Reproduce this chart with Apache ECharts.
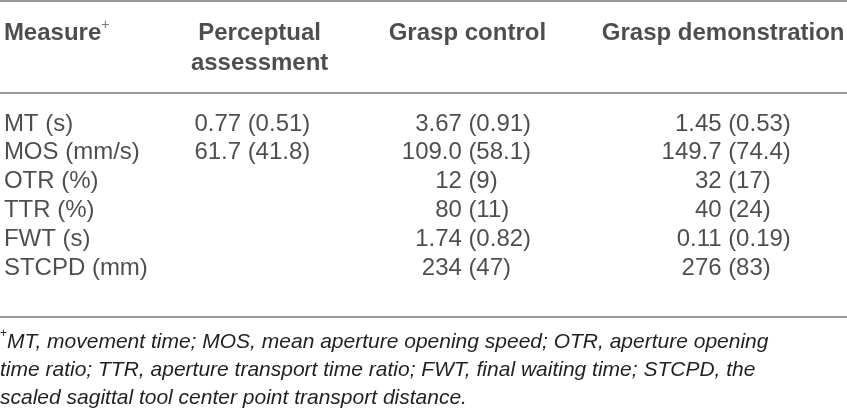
<!DOCTYPE html>
<html>
<head>
    <meta charset="utf-8">
    <script src="https://cdn.jsdelivr.net/npm/echarts@6/dist/echarts.min.js"></script>
    <style>
        html, body { margin: 0; padding: 0; background: #fff; }
    </style>
</head>
<body>
    <div id="main" style="width: 847px;height:417px;"></div>
<script type="text/javascript">
    // table content
    var columns = ['Measure', 'Perceptual assessment', 'Grasp control', 'Grasp demonstration'];
    var headerText = ['Measure{sup|+}', 'Perceptual\nassessment', 'Grasp control', 'Grasp demonstration'];
    var measures = ['MT (s)', 'MOS (mm/s)', 'OTR (%)', 'TTR (%)', 'FWT (s)', 'STCPD (mm)'];
    var decimals = [2, 1, 0, 0, 2, 0];

    var perceptualMean = [0.77, 61.7, null, null, null, null];
    var perceptualSD   = [0.51, 41.8, null, null, null, null];
    var controlMean    = [3.67, 109.0, 12, 80, 1.74, 234];
    var controlSD      = [0.91, 58.1, 9, 11, 0.82, 47];
    var demoMean       = [1.45, 149.7, 32, 40, 0.11, 276];
    var demoSD         = [0.53, 74.4, 17, 24, 0.19, 83];

    var footnote = [
        '{sup|+}MT, movement time; MOS, mean aperture opening speed; OTR, aperture opening',
        'time ratio; TTR, aperture transport time ratio; FWT, final waiting time; STCPD, the',
        'scaled sagittal tool center point transport distance.'
    ];

    var myChart = echarts.init(document.getElementById('main'));

    var FONT = 'Liberation Sans';
    var INK = '#231f20';
    var RULE = '#9a9a9a';

    // horizontal shift of each column's anchor (the gap before the SD) from the category centre
    var colShift = [-102, -70, -61, -13];
    var headShift = [-102, -58, -62, -18];

    function textSeries(name, data, align) {
        return {
            name: name,
            type: 'scatter',
            symbolSize: 0,
            itemStyle: { color: 'rgba(0,0,0,0)' },
            silent: true,
            data: data,
            label: {
                show: true,
                position: 'inside',
                formatter: '{b}',
                align: align,
                verticalAlign: 'middle',
                fontFamily: FONT,
                fontSize: 24,
                color: INK
            }
        };
    }

    var series = [];

    // first column: measure names
    series.push(textSeries('measure', measures.map(function (m) {
        return { name: m, value: [columns[0], m], label: { offset: [colShift[0], 0] } };
    }), 'left'));

    // value columns: mean right-aligned, SD left-aligned about the gap
    [[perceptualMean, perceptualSD], [controlMean, controlSD], [demoMean, demoSD]].forEach(function (pair, k) {
        var c = k + 1;
        var means = [], sds = [];
        measures.forEach(function (m, i) {
            if (pair[0][i] == null) return;
            means.push({ name: pair[0][i].toFixed(decimals[i]), value: [columns[c], m],
                label: { offset: [colShift[c] - 6.5, 0] } });
            sds.push({ name: '(' + pair[1][i].toFixed(decimals[i]) + ')', value: [columns[c], m],
                label: { offset: [colShift[c], 0] } });
        });
        series.push(textSeries('mean' + c, means, 'right'));
        series.push(textSeries('sd' + c, sds, 'left'));
    });

    // header row
    var head = textSeries('header', columns.map(function (c, j) {
        return {
            name: headerText[j],
            value: [c, measures[0]],
            label: {
                align: j === 0 ? 'left' : 'center',
                offset: [headShift[j], j === 1 ? -76 : -91]
            }
        };
    }), 'center');
    head.label.fontWeight = 'bold';
    head.label.lineHeight = 30;
    head.label.rich = {
        sup: { fontFamily: FONT, fontSize: 14, fontWeight: 'normal', color: '#555', verticalAlign: 'top', lineHeight: 30 }
    };
    series.push(head);

    var option = {
        animation: false,
        backgroundColor: '#fff',
        title: {
            text: footnote.join('\n'),
            left: 0,
            top: 328,
            padding: 0,
            textStyle: {
                fontFamily: FONT,
                fontSize: 21,
                fontStyle: 'italic',
                fontWeight: 'normal',
                color: INK,
                lineHeight: 28,
                rich: {
                    sup: { fontFamily: FONT, fontSize: 12, fontStyle: 'normal', color: INK, verticalAlign: 'top', lineHeight: 28 }
                }
            }
        },
        grid: { left: 0, right: 0, top: 109.5, height: 173.4 },
        xAxis: { type: 'category', data: columns, show: false },
        yAxis: { type: 'category', data: measures, inverse: true, show: false },
        graphic: [
            { type: 'line', shape: { x1: 0, y1: 1, x2: 847, y2: 1 }, style: { stroke: RULE, lineWidth: 2 } },
            { type: 'line', shape: { x1: 0, y1: 93, x2: 847, y2: 93 }, style: { stroke: RULE, lineWidth: 2 } },
            { type: 'line', shape: { x1: 0, y1: 317, x2: 847, y2: 317 }, style: { stroke: RULE, lineWidth: 2 } }
        ],
        series: series
    };

    myChart.setOption(option);
</script>
</body>
</html>
